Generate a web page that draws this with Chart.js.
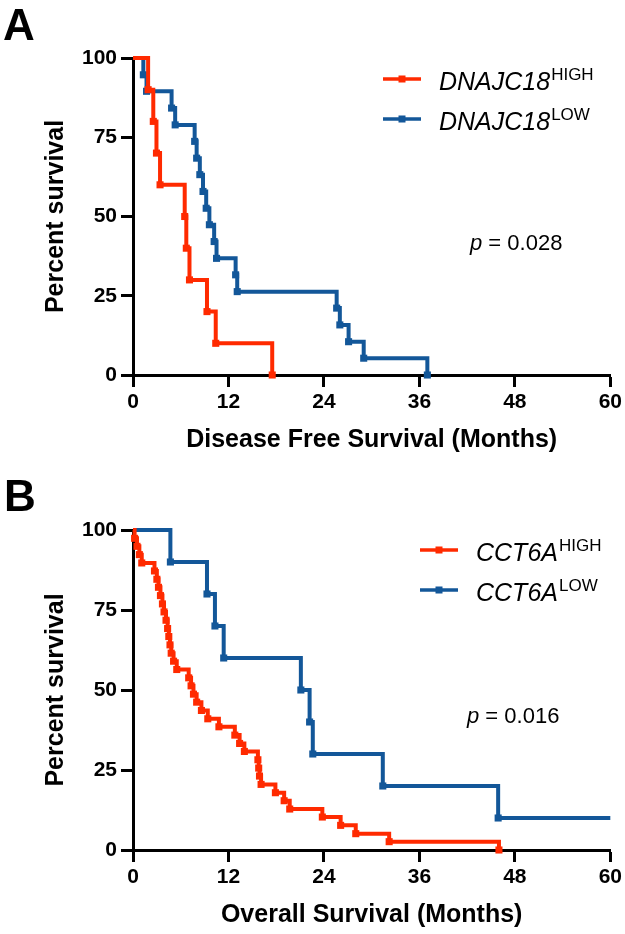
<!DOCTYPE html>
<html>
<head>
<meta charset="utf-8">
<script src="https://cdn.jsdelivr.net/npm/chart.js@4.4.1/dist/chart.umd.min.js"></script>
<style>
  html, body { margin: 0; padding: 0; background: #fff; }
  .panel { position: absolute; left: 0; width: 625px; height: 467px; }
</style>
</head>
<body>
<div class="panel" style="top:0"><canvas id="chartA"></canvas></div>
<div class="panel" style="top:467px"><canvas id="chartB"></canvas></div>
<script>
// Panel A - disease free survival (months, percent survival)
const dfsHighMonths = [0, 1.9, 2.55, 2.95, 3.4, 6.5, 6.7, 7.1, 9.3, 10.4, 17.5];
const dfsHighSurv = [100, 90, 80, 70, 60, 50, 40, 30, 20, 10, 0];
const dfsLowMonths = [0, 1.3, 1.7, 4.85, 5.3, 7.75, 8.0, 8.4, 8.8, 9.2, 9.6, 10.2, 10.5, 12.9, 13.1, 25.6, 26.0, 27.1, 29.0, 37.0];
const dfsLowSurv = [100, 94.7, 89.5, 84.2, 78.9, 73.7, 68.4, 63.2, 57.9, 52.6, 47.4, 42.1, 36.8, 31.6, 26.3, 21.1, 15.8, 10.5, 5.3, 0];

// Panel B - overall survival
const osHighMonths = [0, 0.2, 0.5, 0.8, 1.1, 2.7, 3.0, 3.2, 3.45, 3.7, 3.9, 4.15, 4.35, 4.5, 4.65, 4.8, 5.1, 5.5,
  7.0, 7.3, 7.6, 8.0, 8.6, 9.4, 10.8, 12.8, 13.4, 14.0, 15.7, 15.8, 15.9, 16.1, 17.9, 19.0, 19.7, 23.8, 26.1, 28.0, 32.2, 46.0];
const osHighSurv = [100, 97.4, 94.9, 92.3, 89.7, 87.2, 84.6, 82.1, 79.5, 76.9, 74.4, 71.8, 69.2, 66.7, 64.1, 61.5, 59.0, 56.4,
  53.8, 51.3, 48.7, 46.2, 43.6, 41.0, 38.5, 35.9, 33.3, 30.8, 28.2, 25.6, 23.1, 20.5, 17.9, 15.4, 12.8, 10.3, 7.7, 5.1, 2.6, 0];
const osLowMonths = [0, 4.7, 9.3, 10.3, 11.4, 21.1, 22.2, 22.6, 31.4, 45.9, 60];
const osLowSurv = [100, 90, 80, 70, 60, 50, 40, 30, 20, 10, 10];

const monthTicks = [0, 12, 24, 36, 48, 60];
const survTicks = [0, 25, 50, 75, 100];

const RED = "#ff2a00";
const BLUE = "#135799";
const FONT = '"Liberation Sans", Arial, Helvetica, sans-serif';

Chart.defaults.font.family = FONT;
Chart.defaults.color = "#000";

function kmDataset(label, xs, ys, color) {
  return {
    label: label,
    data: xs.map((x, i) => ({ x: x, y: ys[i] })),
    stepped: "before",
    borderColor: color,
    backgroundColor: color,
    borderWidth: 4,
    fill: false,
    clip: false,
    pointStyle: "rect",
    pointBorderWidth: 0,
    pointHoverRadius: 0,
    // a marker only where the curve drops
    pointRadius: (ctx) => {
      const i = ctx.dataIndex;
      return i > 0 && ys[i] < ys[i - 1] ? 5 : 0;
    },
  };
}

// letter, axis titles, p value and the legend with superscripts
const panelText = {
  id: "panelText",
  afterDraw(chart, args, o) {
    const ctx = chart.ctx;
    const a = chart.chartArea;
    ctx.save();
    ctx.fillStyle = "#000";
    ctx.textBaseline = "alphabetic";

    ctx.textAlign = "left";
    ctx.font = "bold 44px " + FONT;
    ctx.fillText(o.letter, o.letterX, o.letterY);

    ctx.textAlign = "center";
    ctx.font = "bold 25px " + FONT;
    ctx.fillText(o.xTitle, (a.left + a.right) / 2, a.bottom + 72);

    ctx.save();
    ctx.translate(63, (a.top + a.bottom) / 2);
    ctx.rotate(-Math.PI / 2);
    ctx.fillText("Percent survival", 0, 0);
    ctx.restore();

    ctx.textAlign = "left";
    ctx.font = "italic 22px " + FONT;
    ctx.fillText("p", o.pX, o.pY);
    const pw = ctx.measureText("p").width;
    ctx.font = "22px " + FONT;
    ctx.fillText(" = " + o.pValue, o.pX + pw, o.pY);

    o.legend.forEach((it, i) => {
      const y = o.legY + i * 40;
      ctx.strokeStyle = it.color;
      ctx.fillStyle = it.color;
      ctx.lineWidth = 3.5;
      ctx.beginPath();
      ctx.moveTo(o.legX, y);
      ctx.lineTo(o.legX + 38, y);
      ctx.stroke();
      ctx.fillRect(o.legX + 19 - 3.5, y - 3.5, 7, 7);

      ctx.fillStyle = "#000";
      ctx.font = "italic 25px " + FONT;
      ctx.fillText(it.gene, o.legX + 56, y + 11);
      const w = ctx.measureText(it.gene).width;
      ctx.font = "17px " + FONT;
      ctx.fillText(it.level, o.legX + 56 + w + 1, y + 1);
    });
    ctx.restore();
  },
};

function makeChart(id, datasets, text, top, xHeight) {
  return new Chart(document.getElementById(id), {
    type: "line",
    data: { datasets: datasets },
    plugins: [panelText],
    options: {
      responsive: true,
      maintainAspectRatio: false,
      animation: false,
      layout: { padding: { left: 0, right: 13, top: top, bottom: 0 } },
      scales: {
        x: {
          type: "linear",
          min: 0,
          max: 60,
          afterFit: (s) => { s.height = xHeight; },
          afterBuildTicks: (s) => { s.ticks = monthTicks.map((v) => ({ value: v })); },
          grid: { drawOnChartArea: false, tickLength: 12, tickWidth: 3, tickColor: "#000" },
          border: { color: "#000", width: 3 },
          ticks: { padding: 3, maxRotation: 0, font: { size: 21, weight: "bold" }, color: "#000" },
        },
        y: {
          type: "linear",
          min: 0,
          max: 100,
          afterFit: (s) => { s.width = 133; },
          afterBuildTicks: (s) => { s.ticks = survTicks.map((v) => ({ value: v })); },
          grid: { drawOnChartArea: false, tickLength: 12, tickWidth: 3, tickColor: "#000" },
          border: { color: "#000", width: 3 },
          ticks: { padding: 4, font: { size: 21, weight: "bold" }, color: "#000" },
        },
      },
      plugins: {
        legend: { display: false },
        tooltip: { enabled: false },
        panelText: text,
      },
    },
  });
}

makeChart("chartA", [
  kmDataset("DNAJC18 HIGH", dfsHighMonths, dfsHighSurv, RED),
  kmDataset("DNAJC18 LOW", dfsLowMonths, dfsLowSurv, BLUE),
], {
  letter: "A", letterX: 3, letterY: 40,
  xTitle: "Disease Free Survival (Months)",
  pValue: "0.028", pX: 470, pY: 250,
  legX: 383, legY: 79,
  legend: [
    { gene: "DNAJC18", level: "HIGH", color: RED },
    { gene: "DNAJC18", level: "LOW", color: BLUE },
  ],
}, 58, 92);

makeChart("chartB", [
  kmDataset("CCT6A HIGH", osHighMonths, osHighSurv, RED),
  kmDataset("CCT6A LOW", osLowMonths, osLowSurv, BLUE),
], {
  letter: "B", letterX: 4, letterY: 44,
  xTitle: "Overall Survival (Months)",
  pValue: "0.016", pX: 467, pY: 256,
  legX: 420, legY: 83,
  legend: [
    { gene: "CCT6A", level: "HIGH", color: RED },
    { gene: "CCT6A", level: "LOW", color: BLUE },
  ],
}, 63, 84);
</script>
</body>
</html>
